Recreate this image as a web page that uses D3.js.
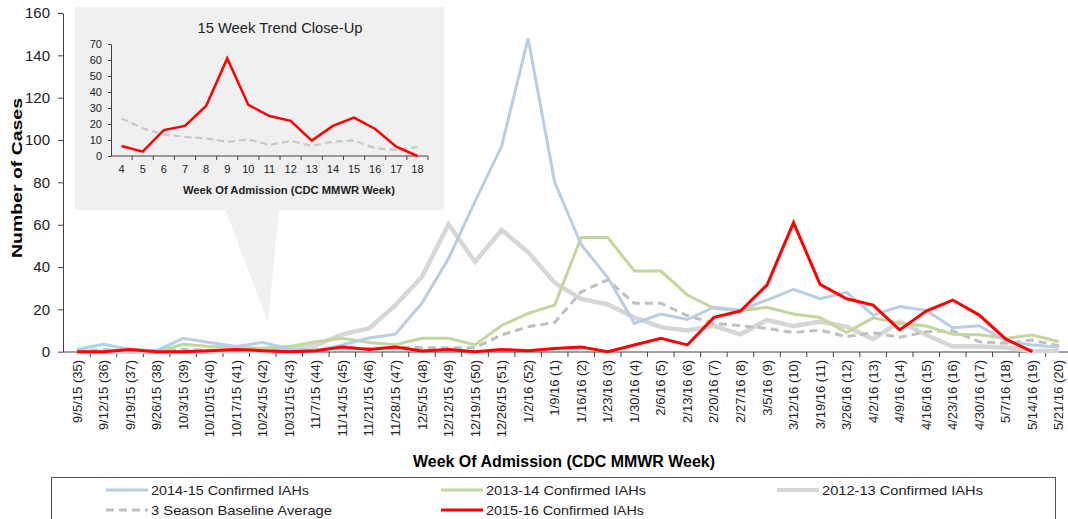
<!DOCTYPE html>
<html>
<head>
<meta charset="utf-8">
<script src="https://cdn.jsdelivr.net/npm/d3@7"></script>
<style>
    body { margin: 0; background: #fff; }
    svg { display: block; font-family: "Liberation Sans", Arial, sans-serif; }
</style>
</head>
<body>
<div id="chart"></div>
<script>
// week labels on the main x axis
const weekLabels = ["9/5/15 (35)", "9/12/15 (36)", "9/19/15 (37)", "9/26/15 (38)", "10/3/15 (39)", "10/10/15 (40)",
    "10/17/15 (41)", "10/24/15 (42)", "10/31/15 (43)", "11/7/15 (44)", "11/14/15 (45)", "11/21/15 (46)",
    "11/28/15 (47)", "12/5/15 (48)", "12/12/15 (49)", "12/19/15 (50)", "12/26/15 (51)", "1/2/16 (52)",
    "1/9/16 (1)", "1/16/16 (2)", "1/23/16 (3)", "1/30/16 (4)", "2/6/16 (5)", "2/13/16 (6)", "2/20/16 (7)",
    "2/27/16 (8)", "3/5/16 (9)", "3/12/16 (10)", "3/19/16 (11)", "3/26/16 (12)", "4/2/16 (13)", "4/9/16 (14)",
    "4/16/16 (15)", "4/23/16 (16)", "4/30/16 (17)", "5/7/16 (18)", "5/14/16 (19)", "5/21/16 (20)"];

// series values (cases per week)
const season1415 = [1, 3.5, 1, 0.5, 6.3, 4.3, 2.5, 4.3, 1.3, 0.5, 3.2, 6.5, 8.3, 23, 44, 71, 97, 148, 80, 50.5,
    35, 13.4, 17.8, 15.2, 21, 19.7, 24.4, 29.5, 25, 28, 17.3, 21.3, 19.5, 11.3, 12.3, 5, 3.2, 2.1];
const season1314 = [0, 0, 1, 0, 3.5, 2.5, 2, 1.7, 2.4, 4.7, 6.3, 4.3, 3.3, 6.3, 6.3, 3.2, 12.4, 18.1, 22, 54,
    54, 38.1, 38.1, 26.8, 20.5, 19.4, 21, 17.8, 16.2, 9, 16, 13.4, 12.1, 8.2, 8, 6.3, 7.9, 4.7];
const season1213 = [0, 0, 0, 0, 0, 0, 0.5, 0.5, 0.8, 3, 8.2, 11, 22, 35.4, 60.2, 42.5, 57.5, 47, 32.6, 24.9,
    22.3, 16.2, 11.6, 10, 12.2, 8.2, 15, 12.1, 14.2, 11.8, 5.9, 14.2, 7.9, 2.4, 2.4, 2, 0.3, 0.3];
const baselineAvg = [0.3, 1, 0.5, 0.3, 1, 0.7, 0.7, 1, 0.7, 1, 2, 1.5, 2, 1.9, 1.9, 1.9, 7.9, 11.8, 13.8, 28.3,
    33.9, 22.9, 22.9, 17, 13.4, 12.3, 11, 9, 10.2, 7.1, 9, 6.8, 9.4, 9.9, 4.7, 4, 5.5, 2.8];
const season1516 = [0, 0, 1, 0, 0, 0.5, 1, 0.5, 0, 0.5, 2.2, 1, 2.2, 0.3, 1, 0, 1, 0.5, 1.5, 2.2, 0, 3.2, 6.3,
    3.2, 16.2, 19.2, 31.5, 61, 31.8, 25, 22, 10.3, 19.2, 24.4, 17.3, 5.9, 0];
const yTicks = [0, 20, 40, 60, 80, 100, 120, 140, 160];

// close-up inset
const insetWeeks = [4, 5, 6, 7, 8, 9, 10, 11, 12, 13, 14, 15, 16, 17, 18];
const insetCases = [6.3, 2.7, 16.2, 18.8, 31.3, 61, 31.9, 25, 22, 9.6, 18.8, 24, 16.9, 5.8, 0];
const insetBaseline = [23.5, 17.3, 13.5, 12, 11, 8.8, 10.4, 6.9, 9.4, 6.3, 9, 9.6, 4.8, 3.8, 5.6];
const insetTicks = [0, 10, 20, 30, 40, 50, 60, 70];

// legend
const legendNames = ["2014-15 Confirmed IAHs", "2013-14 Confirmed IAHs", "2012-13 Confirmed IAHs",
    "3 Season Baseline Average", "2015-16 Confirmed IAHs"];

let width = 1068, height = 519;
let svg = d3.select("#chart").append("svg")
    .attr("width", width)
    .attr("height", height);

let styles = [
    {stroke: "#b9cde5", width: 3, dash: null},
    {stroke: "#c3d69b", width: 3, dash: null},
    {stroke: "#d6d6d6", width: 4.5, dash: null},
    {stroke: "#bfbfbf", width: 3, dash: "8,5"},
    {stroke: "#ff0000", width: 3, dash: null}
];

// the original uses a narrow, stretched font -> force text to the measured length
function stretchTo(sel, len) {
    sel.attr("textLength", len).attr("lengthAdjust", "spacingAndGlyphs");
}

// == MAIN CHART == //
let xBand = d3.scaleBand()
    .domain(weekLabels)
    .range([63.7, 1072.2]);
let xPos = d => xBand(d) + xBand.bandwidth() / 2;

let y = d3.scaleLinear()
    .domain([0, 160])
    .range([351.7, 13]);

// inset box + pointer go behind everything
let inset = svg.append("g").attr("class", "inset");
inset.append("polygon")
    .attr("points", "225,209 279,209 268,322")
    .attr("fill", "#f0f0f0");
inset.append("rect")
    .attr("x", 75).attr("y", 7)
    .attr("width", 369).attr("height", 203)
    .attr("fill", "#f0f0f0");

// y axis
let yAxis = svg.append("g")
    .attr("transform", "translate(63,0)")
    .call(d3.axisLeft(y).tickValues(yTicks).tickSize(5).tickPadding(8).tickSizeOuter(0));
yAxis.select(".domain").attr("stroke", "#404040");
yAxis.selectAll("line").attr("stroke", "#404040");
yAxis.selectAll("text").attr("font-size", "15px").attr("fill", "#222");

// x axis (labels from the band scale, ticks at band edges)
let xAxis = svg.append("g")
    .attr("transform", "translate(0,352)")
    .call(d3.axisBottom(xBand).tickSize(0).tickSizeOuter(0));
xAxis.select(".domain").remove();
xAxis.selectAll("text")
    .attr("transform", "rotate(-90)")
    .attr("x", -8)
    .attr("y", 0)
    .attr("dy", "0.35em")
    .attr("font-size", "13px")
    .attr("fill", "#222")
    .style("text-anchor", "end");

svg.append("line")
    .attr("x1", 63).attr("x2", width)
    .attr("y1", 352).attr("y2", 352)
    .attr("stroke", "#404040");
svg.append("g").selectAll("line")
    .data(weekLabels.slice(1))
    .enter().append("line")
    .attr("x1", d => xBand(d)).attr("x2", d => xBand(d))
    .attr("y1", 352).attr("y2", 357)
    .attr("stroke", "#404040");

// axis titles
svg.append("text")
    .attr("transform", "translate(22,178) rotate(-90)")
    .attr("text-anchor", "middle")
    .attr("font-size", "15px")
    .attr("font-weight", "bold")
    .text("Number of Cases")
    .call(stretchTo, 160);

svg.append("text")
    .attr("x", 564).attr("y", 467)
    .attr("text-anchor", "middle")
    .attr("font-size", "16px")
    .attr("font-weight", "bold")
    .text("Week Of Admission  (CDC MMWR Week)")
    .call(stretchTo, 302);

// lines
let line = d3.line()
    .x((d, i) => xPos(weekLabels[i]))
    .y(d => y(d));

let allSeries = [season1415, season1314, season1213, baselineAvg, season1516];
let drawOrder = [2, 3, 1, 0, 4];
drawOrder.forEach(k => {
    svg.append("path")
        .datum(allSeries[k])
        .attr("fill", "none")
        .attr("stroke", styles[k].stroke)
        .attr("stroke-width", styles[k].width)
        .attr("stroke-dasharray", styles[k].dash)
        .attr("stroke-linejoin", "miter")
        .attr("d", line);
});

// == INSET CHART == //
let xIn = d3.scaleBand()
    .domain(insetWeeks)
    .range([111, 428]);
let xInPos = d => xIn(d) + xIn.bandwidth() / 2;
let yIn = d3.scaleLinear()
    .domain([0, 70])
    .range([156, 44]);

inset.append("text")
    .attr("x", 280).attr("y", 33)
    .attr("text-anchor", "middle")
    .attr("font-size", "14px")
    .attr("fill", "#222")
    .text("15 Week Trend Close-Up")
    .call(stretchTo, 165);

let yInAxis = inset.append("g")
    .attr("transform", "translate(111,0)")
    .call(d3.axisLeft(yIn).tickValues(insetTicks).tickSize(3).tickPadding(6).tickSizeOuter(0));
yInAxis.select(".domain").attr("stroke", "#404040");
yInAxis.selectAll("line").attr("stroke", "#404040");
yInAxis.selectAll("text").attr("font-size", "11px").attr("fill", "#222");

let xInAxis = inset.append("g")
    .attr("transform", "translate(0,156)")
    .call(d3.axisBottom(xIn).tickSize(0).tickPadding(9).tickSizeOuter(0));
xInAxis.select(".domain").remove();
xInAxis.selectAll("text").attr("font-size", "11px").attr("fill", "#222");

inset.append("line")
    .attr("x1", 111).attr("x2", 428)
    .attr("y1", 156).attr("y2", 156)
    .attr("stroke", "#404040");
inset.append("g").selectAll("line")
    .data(insetWeeks.slice(1).concat(["end"]))
    .enter().append("line")
    .attr("x1", d => d === "end" ? 428 : xIn(d))
    .attr("x2", d => d === "end" ? 428 : xIn(d))
    .attr("y1", 156).attr("y2", 160)
    .attr("stroke", "#404040");

inset.append("text")
    .attr("x", 289).attr("y", 194)
    .attr("text-anchor", "middle")
    .attr("font-size", "10px")
    .attr("font-weight", "bold")
    .attr("fill", "#222")
    .text("Week Of Admission  (CDC MMWR Week)")
    .call(stretchTo, 212);

let lineIn = d3.line()
    .x((d, i) => xInPos(insetWeeks[i]))
    .y(d => yIn(d));

inset.append("path")
    .datum(insetBaseline)
    .attr("fill", "none")
    .attr("stroke", "#c8c8c8")
    .attr("stroke-width", 2.2)
    .attr("stroke-dasharray", "7,4")
    .attr("d", lineIn);
inset.append("path")
    .datum(insetCases)
    .attr("fill", "none")
    .attr("stroke", "#ff0000")
    .attr("stroke-width", 2.5)
    .attr("d", lineIn);

// == LEGEND == //
svg.append("rect")
    .attr("x", 51.5).attr("y", 477.5)
    .attr("width", 1004).attr("height", 60)
    .attr("fill", "none")
    .attr("stroke", "#555");

let legendPos = [[106, 490], [441, 490], [777, 490], [106, 510], [441, 510]];
let legendLen = [158, 160, 161, 181, 158];
let legend = svg.append("g").selectAll("g")
    .data(legendNames)
    .enter().append("g")
    .attr("transform", (d, i) => `translate(${legendPos[i][0]},${legendPos[i][1]})`);

legend.append("line")
    .attr("x1", 0).attr("x2", 42)
    .attr("stroke", (d, i) => styles[i].stroke)
    .attr("stroke-width", (d, i) => i === 2 ? 4 : 3)
    .attr("stroke-dasharray", (d, i) => styles[i].dash ? "8,5" : null);

legend.append("text")
    .attr("x", 45)
    .attr("dy", "0.35em")
    .attr("font-size", "13px")
    .attr("fill", "#222")
    .text(d => d)
    .attr("textLength", (d, i) => legendLen[i])
    .attr("lengthAdjust", "spacingAndGlyphs");
</script>
</body>
</html>
